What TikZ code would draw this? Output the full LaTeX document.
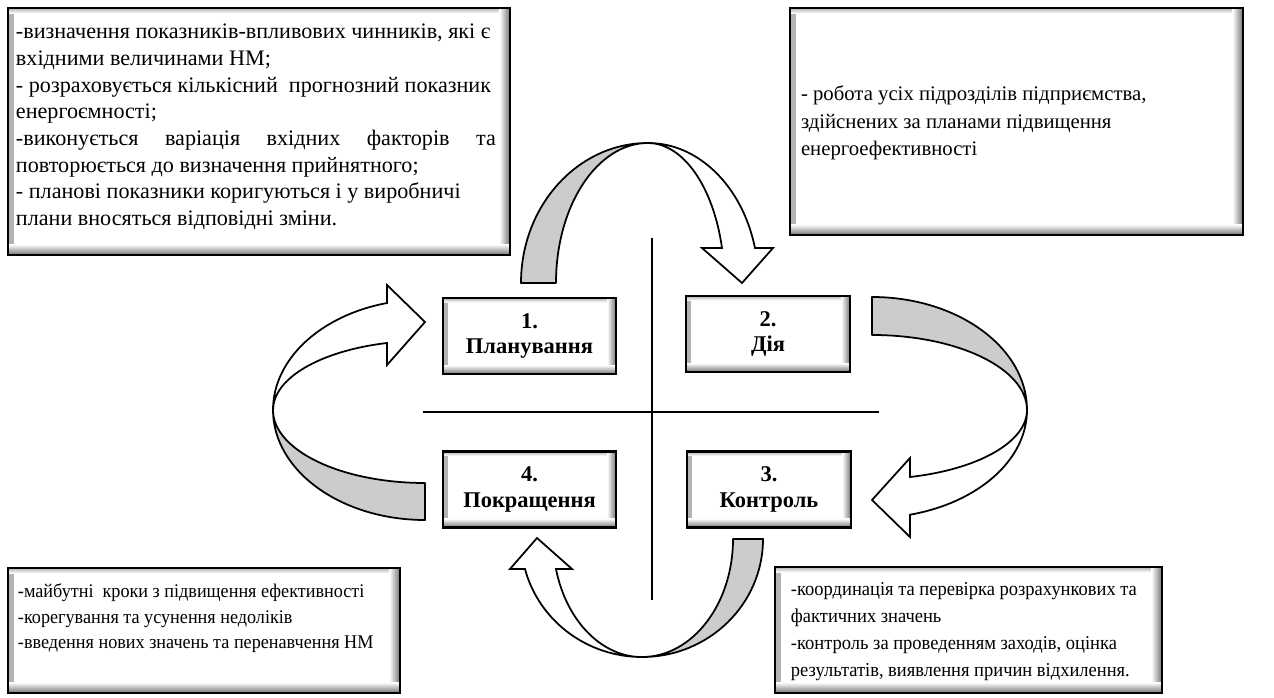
\documentclass[tikz,border=0pt]{standalone}
\usepackage{fontspec}
\setmainfont{Liberation Serif}
\newfontfamily\narrowserif{Liberation Serif}[FakeStretch=0.94]
\usetikzlibrary{positioning}

\begin{document}
\begin{tikzpicture}[x=0.02cm, y=0.02cm,
    bevel/.style={path picture={
        \shade[left color=black!30, right color=white]
          (path picture bounding box.north west) rectangle ([xshift=#1/2]path picture bounding box.south west);
        \shade[top color=black!30, bottom color=white]
          (path picture bounding box.north west) rectangle ([yshift=-#1/2]path picture bounding box.north east);
        \shade[left color=white, right color=black!55]
          ([xshift=-#1]path picture bounding box.north east) rectangle (path picture bounding box.south east);
        \shade[top color=white, bottom color=black!55]
          ([yshift=#1]path picture bounding box.south west) rectangle (path picture bounding box.south east);
    }},
    notebox/.style={draw, line width=1.6pt, fill=white, bevel=6pt, inner sep=0pt},
    notetext/.style={inner sep=0pt, anchor=north west, align=left, font=\fontsize{12.6}{15.2}\selectfont},
    stage/.style={draw, line width=1.3pt, fill=white, bevel=5pt, minimum height=1.52cm,
        align=center, font=\fontsize{12.8}{14.6}\selectfont\bfseries},
    back/.style={draw, line width=1pt, fill=black!20, line join=round},
    front/.style={draw, line width=1pt, fill=white, line join=miter},
    axis/.style={line width=1.1pt}
]
\useasboundingbox (0,0) rectangle (1274,697);

% description boxes
\node[notebox, minimum width=10.04cm, minimum height=4.94cm] (plannote) at (259,565.5) {};
\node[notetext] (plantext) at ([shift={(9,-17)}]plannote.north west) {%
-визначення показників-впливових чинників, які є\\
вхідними величинами НМ;\\
- розраховується кількісний\ \ прогнозний показник\\
енергоємності;\\
\hbox to 9.6cm{-виконується\hfill варіація\hfill вхідних\hfill факторів\hfill та}\\
повторюється до визначення прийнятного;\\
- планові показники коригуються і у виробничі\\
плани вносяться відповідні зміни.};

\node[notebox, minimum width=9.06cm, minimum height=4.54cm] (actnote) at (1016.5,575.5) {};
\node[notetext, font=\fontsize{11.8}{15.5}\selectfont] (acttext) at ([shift={(12,-79)}]actnote.north west) {%
- робота усіх підрозділів підприємства,\\
здійснених за планами підвищення\\
енергоефективності};

\node[notebox, minimum width=7.84cm, minimum height=2.5cm] (improvenote) at (204,66.5) {};
\node[notetext, font=\narrowserif\fontsize{11}{14.4}\selectfont] (improvetext) at ([shift={(11,-17)}]improvenote.north west) {%
-майбутні\ \ кроки з підвищення ефективності\\
-корегування та усунення недоліків\\
-введення нових значень та перенавчення НМ};

\node[notebox, minimum width=7.74cm, minimum height=2.52cm] (checknote) at (968.5,67) {};
\node[notetext, font=\narrowserif\fontsize{11.2}{15.2}\selectfont] (checktext) at ([shift={(17,-17)}]checknote.north west) {%
-координація та перевірка розрахункових та\\
фактичних значень\\
-контроль за проведенням заходів, оцінка\\
результатів, виявлення причин відхилення.};

% cross
\draw[axis] (652,459) -- (652,97);
\draw[axis] (423,285) -- (879,285);

% stages
\node[stage, minimum width=3.46cm] (plan) at (529.5,361) {1.\\Планування};
\node[stage, minimum width=3.28cm] (act) at (768,363) {2.\\Дія};
\node[stage, minimum width=3.28cm] (check) at (769,207.5) {3.\\Контроль};
\node[stage, minimum width=3.46cm] (improve) at (529.5,207.5) {4.\\Покращення};

% 1 -> 2
\draw[back] (521,414) arc[start angle=180, end angle=90, x radius=127, y radius=140]
  arc[start angle=90, end angle=180, x radius=92, y radius=140] -- cycle;
\draw[front] (648,554) arc[start angle=90, end angle=14.5, x radius=110.5, y radius=140]
  -- (773,449) -- (742,414) -- (702,449) -- (722,449)
  arc[start angle=14.5, end angle=90, x radius=76.4, y radius=140] -- cycle;

% 2 -> 3
\draw[back] (872,400) arc[start angle=90, end angle=0, x radius=155, y radius=113]
  arc[start angle=0, end angle=90, x radius=155, y radius=75] -- cycle;
\draw[front] (1027,287) arc[start angle=0, end angle=-75.8, x radius=155, y radius=108]
  -- (910,160) -- (872,197) -- (910,239) -- (910,220)
  arc[start angle=-75.8, end angle=0, x radius=155, y radius=69] -- cycle;

% 3 -> 4
\draw[back] (763,158) arc[start angle=0, end angle=-90, x radius=121, y radius=118]
  arc[start angle=-90, end angle=0, x radius=91, y radius=118] -- cycle;
\draw[front] (642,40) arc[start angle=-90, end angle=-165.3, x radius=121, y radius=118]
  -- (510,128) -- (537,159) -- (572,128) -- (556,128)
  arc[start angle=-165.3, end angle=-90, x radius=89, y radius=118] -- cycle;

% 4 -> 1
\draw[back] (425,177) arc[start angle=-90, end angle=-180, x radius=152, y radius=110]
  arc[start angle=180, end angle=270, x radius=152, y radius=73] -- cycle;
\draw[front] (273,287) arc[start angle=180, end angle=104.5, x radius=152, y radius=110.5]
  -- (387,412) -- (425,375) -- (387,332) -- (387,354)
  arc[start angle=104.5, end angle=180, x radius=152, y radius=69.2] -- cycle;

\end{tikzpicture}
\end{document}
